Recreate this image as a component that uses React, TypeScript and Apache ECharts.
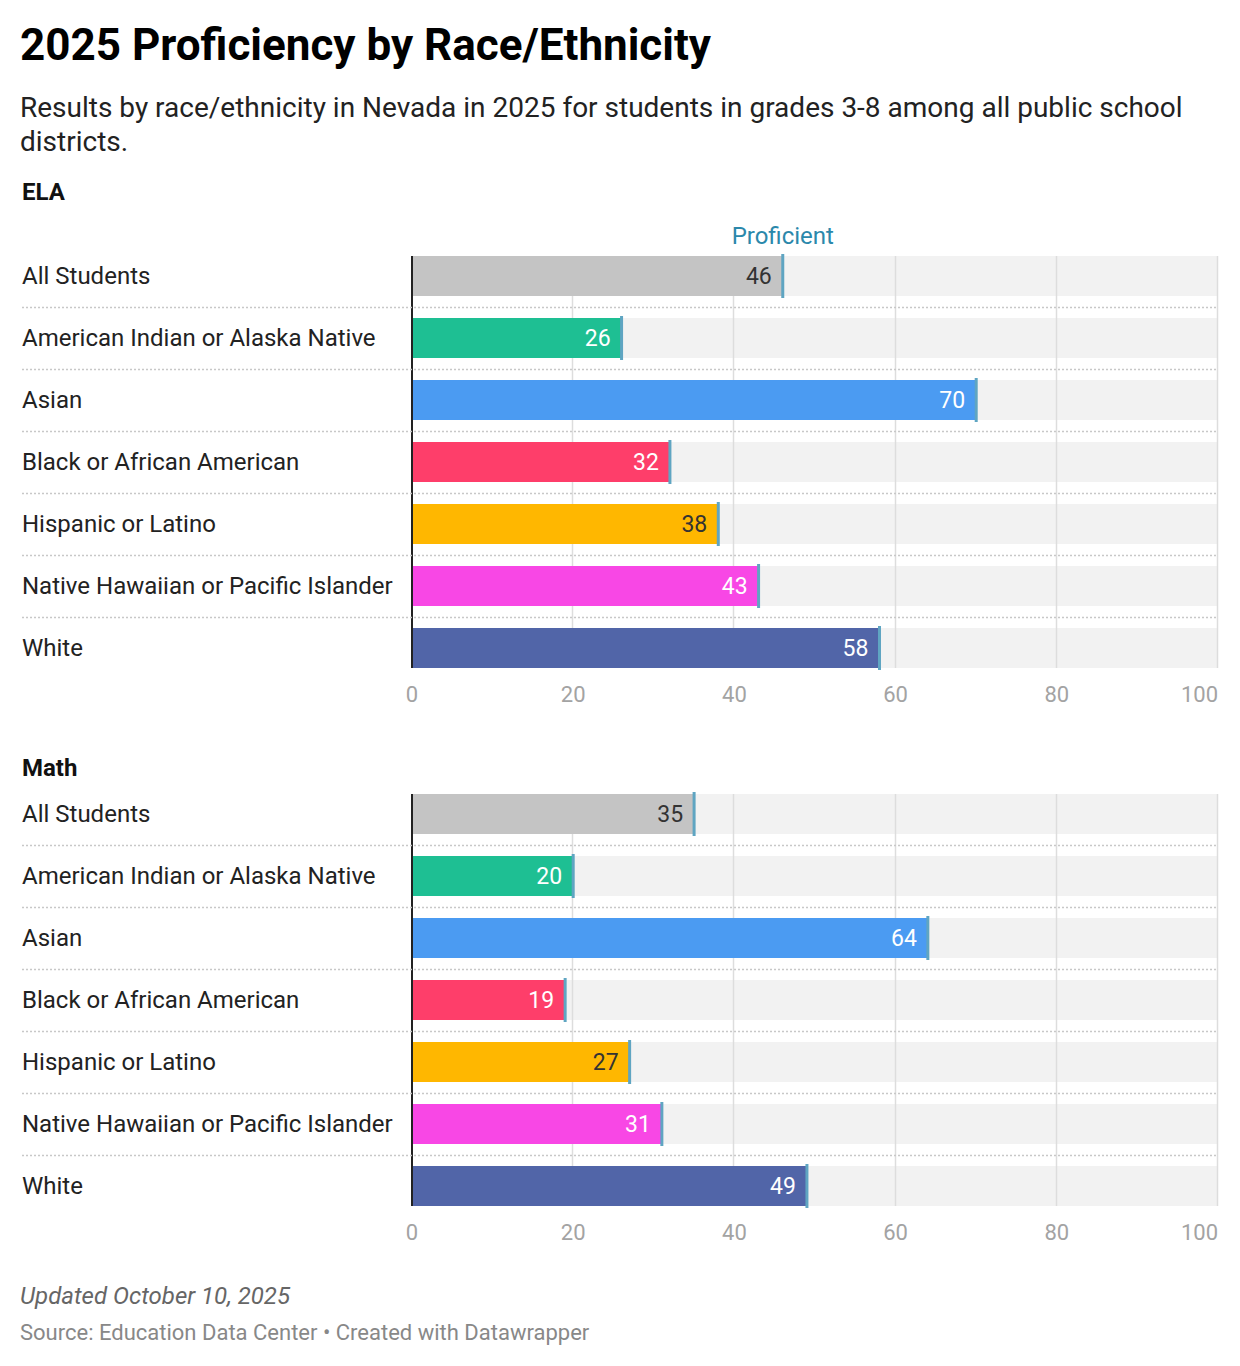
import React, { useEffect, useRef } from "react";
import * as echarts from "echarts";

const categories = [
  "All Students",
  "American Indian or Alaska Native",
  "Asian",
  "Black or African American",
  "Hispanic or Latino",
  "Native Hawaiian or Pacific Islander",
  "White",
];
const elaValues = [46, 26, 70, 32, 38, 43, 58];
const mathValues = [35, 20, 64, 19, 27, 31, 49];
const barColors = ["#c4c4c4", "#1ebf93", "#4b9bf2", "#fe3e6a", "#ffb700", "#f847e5", "#5165a8"];
const labelColors = ["#333333", "#ffffff", "#ffffff", "#ffffff", "#333333", "#ffffff", "#ffffff"];
const axisMin = 0;
const axisMax = 100;
const axisStep = 20;

const FONT = "Roboto, 'Noto Sans', sans-serif";
const MARKER = "#5fa5c2";
const HALF_BAR = 20;

function rowSpan(api: any, idx: number) {
  const start = api.coord([axisMin, idx]);
  const band = api.size([0, 1])[1];
  const n = categories.length;
  const top = idx === 0 ? start[1] - HALF_BAR : start[1] - band / 2;
  const bot = idx === n - 1 ? start[1] + HALF_BAR : start[1] + band / 2;
  return { start, band, top, bot };
}

function renderGrid(params: any, api: any) {
  const idx = api.value(1);
  const { top, bot } = rowSpan(api, idx);
  const children: any[] = [];
  for (let v = axisMin + axisStep; v <= axisMax; v += axisStep) {
    const x = Math.round(api.coord([v, idx])[0]) - 0.5;
    children.push({
      type: "line",
      shape: { x1: x, y1: top, x2: x, y2: bot },
      style: { stroke: "#dddddd", lineWidth: 1.5 },
    });
  }
  return { type: "group", children };
}

function makeRender(showProficient: boolean) {
  return (params: any, api: any) => {
    const val = api.value(0);
    const idx = api.value(1);
    const end = api.coord([val, idx]);
    const right = api.coord([axisMax, idx]);
    const { start, band, top, bot } = rowSpan(api, idx);
    const children: any[] = [];
    children.push({
      type: "rect",
      shape: { x: start[0] - 1, y: top, width: 2, height: bot - top },
      style: { fill: "#222222" },
    });
    if (idx > 0) {
      const y = Math.round(start[1] - band / 2) + 0.5;
      children.push({
        type: "line",
        shape: { x1: start[0] - 390, y1: y, x2: right[0], y2: y },
        style: { stroke: "#c8c8c8", lineWidth: 1.5, lineDash: [2, 2] },
      });
    }
    children.push({
      type: "rect",
      shape: { x: end[0] - 1.5, y: end[1] - 22, width: 3, height: 44 },
      style: { fill: MARKER },
    });
    if (showProficient && idx === 0) {
      children.push({
        type: "text",
        style: {
          text: "Proficient",
          x: end[0],
          y: end[1] - 40,
          align: "center",
          verticalAlign: "middle",
          textAlign: "center",
          textVerticalAlign: "middle",
          fontSize: 24,
          fontFamily: FONT,
          fill: "#2b88ab",
        },
      });
    }
    return { type: "group", children };
  };
}

function barData(values: number[]) {
  return values.map((v, i) => ({
    value: v,
    itemStyle: { color: barColors[i] },
    label: { color: labelColors[i] },
  }));
}

export default function App() {
  const ref = useRef<HTMLDivElement>(null);
  useEffect(() => {
    if (!ref.current) return;
    const chart = echarts.init(ref.current, undefined, { renderer: "svg" });
    const grids = [
      { left: 412, right: 22, top: 245, height: 434 },
      { left: 412, right: 22, top: 783, height: 434 },
    ];
    const xAxes = grids.map((_, gi) => ({
      type: "value",
      gridIndex: gi,
      min: axisMin,
      max: axisMax,
      interval: axisStep,
      axisLine: { show: false },
      axisTick: { show: false },
      splitLine: { show: false },
      axisLabel: {
        color: "#a3a3a3",
        fontSize: 22,
        fontFamily: FONT,
        margin: 4,
        alignMaxLabel: "right",
      },
    }));
    const yAxes = grids.map((_, gi) => ({
      type: "category",
      gridIndex: gi,
      data: categories,
      inverse: true,
      axisLine: { show: false },
      axisTick: { show: false },
      splitLine: { show: false },
      axisLabel: {
        align: "left",
        margin: 390,
        fontSize: 24,
        fontFamily: FONT,
        color: "#222222",
      },
    }));
    const datasets = [elaValues, mathValues];
    const series: any[] = [];
    datasets.forEach((vals, gi) => {
      series.push({
        type: "bar",
        xAxisIndex: gi,
        yAxisIndex: gi,
        data: vals.map(() => axisMax),
        barWidth: 40,
        barGap: "-100%",
        z: 1,
        silent: true,
        itemStyle: { color: "#f2f2f2" },
      });
      series.push({
        type: "custom",
        xAxisIndex: gi,
        yAxisIndex: gi,
        z: 2,
        silent: true,
        data: vals.map((v, i) => [v, i]),
        encode: { x: 0, y: 1 },
        renderItem: renderGrid,
      });
      series.push({
        type: "bar",
        xAxisIndex: gi,
        yAxisIndex: gi,
        data: barData(vals),
        barWidth: 40,
        barGap: "-100%",
        z: 3,
        label: {
          show: true,
          position: "insideRight",
          distance: 11,
          fontSize: 23,
          fontFamily: FONT,
        },
      });
      series.push({
        type: "custom",
        xAxisIndex: gi,
        yAxisIndex: gi,
        z: 5,
        data: vals.map((v, i) => [v, i]),
        encode: { x: 0, y: 1 },
        renderItem: makeRender(gi === 0),
      });
    });
    const text = (t: string, x: number, y: number, extra: any) => ({
      type: "text",
      style: {
        text: t,
        x,
        y,
        fontFamily: FONT,
        textVerticalAlign: "middle",
        verticalAlign: "middle",
        ...extra,
      },
    });
    chart.setOption({
      animation: false,
      backgroundColor: "#ffffff",
      grid: grids,
      xAxis: xAxes,
      yAxis: yAxes,
      series,
      graphic: [
        text("2025 Proficiency by Race/Ethnicity", 20, 45, { fontSize: 44, fontWeight: "bold", fill: "#000000" }),
        text(
          "Results by race/ethnicity in Nevada in 2025 for students in grades 3-8 among all public school\ndistricts.",
          20,
          124,
          { fontSize: 28, lineHeight: 34, fill: "#222222" }
        ),
        text("ELA", 22, 192, { fontSize: 24, fontWeight: "bold", fill: "#111111" }),
        text("Math", 22, 768, { fontSize: 24, fontWeight: "bold", fill: "#111111" }),
        text("Updated October 10, 2025", 20, 1296, { fontSize: 24, fontStyle: "italic", fill: "#666666" }),
        text("Source: Education Data Center • Created with Datawrapper", 20, 1332, { fontSize: 22, fill: "#888888" }),
      ],
    });
    return () => chart.dispose();
  }, []);
  return (
    <div
      ref={ref}
      style={{ position: "absolute", left: 0, top: 0, width: 1240, height: 1366, background: "#fff" }}
    />
  );
}
